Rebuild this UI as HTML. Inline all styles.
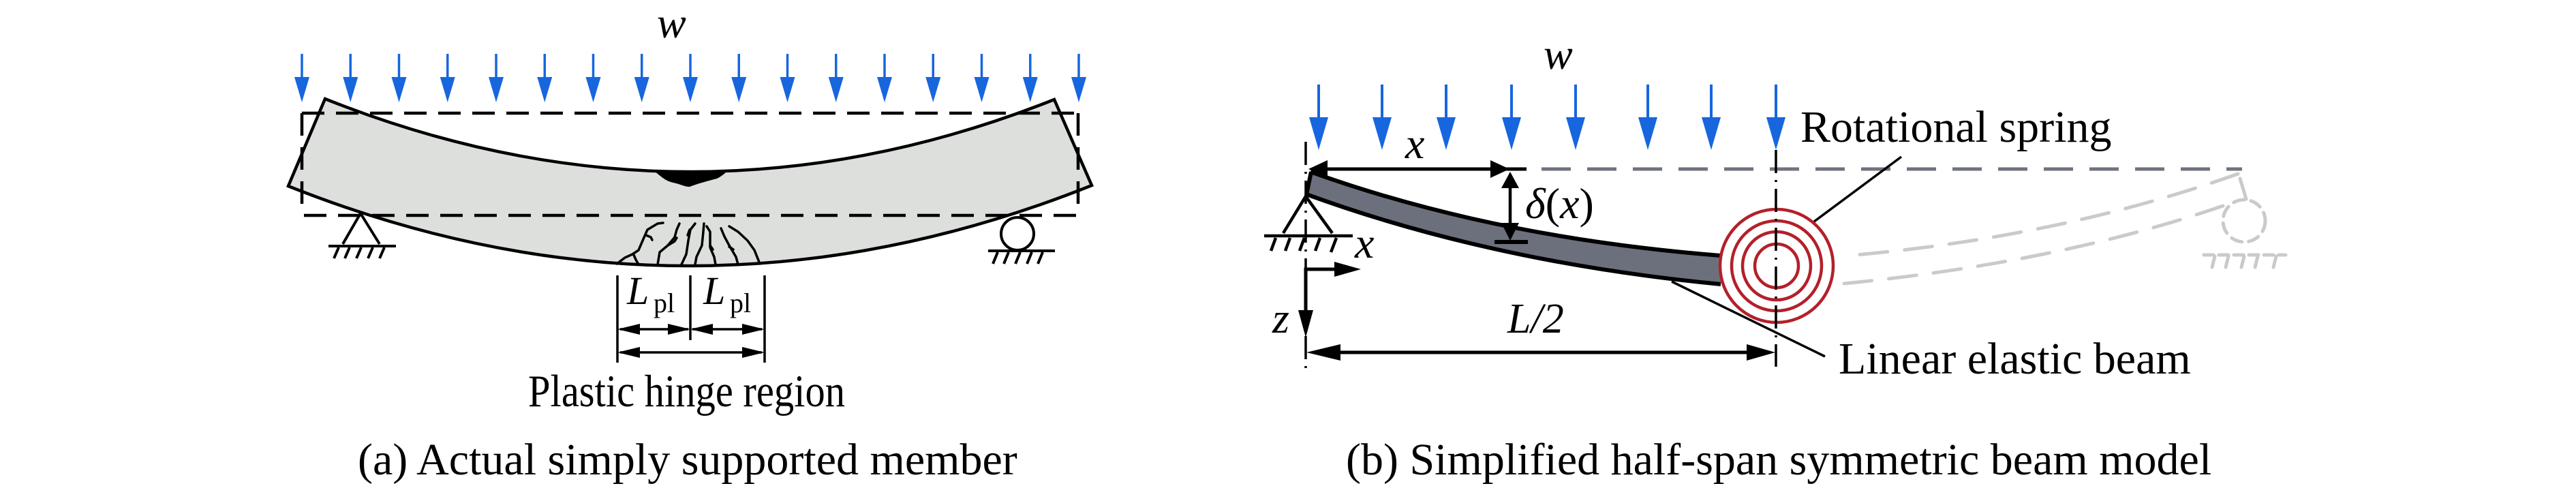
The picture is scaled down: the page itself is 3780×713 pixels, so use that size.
<!DOCTYPE html>
<html>
<head>
<meta charset="utf-8">
<style>
html,body{margin:0;padding:0;background:#fff;}
svg{display:block;}
text{font-family:"Liberation Serif","Times New Roman",serif;fill:#000;}
.it{font-style:italic;}
</style>
</head>
<body>
<svg width="3780" height="713" viewBox="0 0 3780 713" xmlns="http://www.w3.org/2000/svg">
<defs>
  <g id="ba">
    <line x1="0" y1="79" x2="0" y2="116" stroke="#1766de" stroke-width="3.5"/>
    <polygon points="-11,113 11,113 0,150" fill="#1766de"/>
  </g>
  <g id="bb">
    <line x1="0" y1="124" x2="0" y2="175" stroke="#1766de" stroke-width="4"/>
    <polygon points="-14,172 14,172 0,220" fill="#1766de"/>
  </g>
</defs>
<rect width="3780" height="713" fill="#fff"/>

<!-- ================= (a) ================= -->
<text class="it" x="964" y="55" font-size="64">w</text>

<!-- beam -->
<path d="M477 145 Q1012 358.5 1547 146 L1602 272 Q1012 507.5 423 273 Z" fill="#dcdfdc" stroke="#000" stroke-width="4.5" stroke-linejoin="miter"/>

<!-- dashed original rectangle -->
<g stroke="#000" stroke-width="4.5" fill="none" stroke-dasharray="33 17">
  <line x1="443" y1="166" x2="1582" y2="166"/>
  <line x1="446" y1="316" x2="1582" y2="316"/>
  <line x1="443" y1="166" x2="443" y2="302"/>
  <line x1="1582" y1="166" x2="1582" y2="316"/>
</g>

<!-- blob at top -->
<path d="M958 250 C968 256 974 265 988 268 C998 270 1004 274 1012 274 C1022 270 1040 265 1052 262 C1060 258 1064 254 1068 250 Z" fill="#000"/>

<!-- cracks -->
<g stroke="#000" stroke-width="3.5" fill="none" stroke-linejoin="round" stroke-linecap="round">
  <polyline points="905,387 917,378 928,373 937,367 943,353 950,337 965,328 973,327"/>
  <polyline points="930,374 933,381 937,388"/>
  <polyline points="948,345 955,348 957,352"/>
  <polyline points="965,388 968,370 980,360 990,348 993,337 997,328"/>
  <polyline points="980,360 990,354 993,349"/>
  <polyline points="1000,388 1007,373 1010,353 1013,337 1020,328"/>
  <polyline points="1012,337 1009,345"/>
  <polyline points="1020,388 1022,377 1030,360 1032,340 1033,328"/>
  <polyline points="1050,388 1048,377 1042,363 1042,340 1037,332"/>
  <polyline points="1042,360 1046,366"/>
  <polyline points="1083,388 1080,377 1070,360 1063,347 1058,335"/>
  <polyline points="1070,362 1076,366"/>
  <polyline points="1115,387 1107,367 1097,353 1083,340 1070,332"/>
</g>

<!-- left pin support -->
<g stroke="#000" stroke-width="4" fill="none">
  <polyline points="503,358 529,313 557,358"/>
  <line x1="482" y1="361" x2="581" y2="361"/>
  <line x1="497" y1="363" x2="490" y2="379"/>
  <line x1="513" y1="363" x2="506" y2="379"/>
  <line x1="530" y1="363" x2="523" y2="379"/>
  <line x1="547" y1="363" x2="540" y2="379"/>
  <line x1="564" y1="363" x2="557" y2="379"/>
</g>
<!-- right roller -->
<g stroke="#000" stroke-width="4" fill="none">
  <circle cx="1493" cy="343" r="24" fill="#fff"/>
  <line x1="1450" y1="368" x2="1548" y2="368"/>
  <line x1="1464" y1="370" x2="1457" y2="387"/>
  <line x1="1480" y1="370" x2="1473" y2="387"/>
  <line x1="1497" y1="370" x2="1490" y2="387"/>
  <line x1="1514" y1="370" x2="1507" y2="387"/>
  <line x1="1530" y1="370" x2="1523" y2="387"/>
</g>

<!-- load arrows (a) -->
<use href="#ba" x="443"/><use href="#ba" x="514.25"/><use href="#ba" x="585.5"/><use href="#ba" x="656.75"/>
<use href="#ba" x="728"/><use href="#ba" x="799.25"/><use href="#ba" x="870.5"/><use href="#ba" x="941.75"/>
<use href="#ba" x="1013"/><use href="#ba" x="1084.25"/><use href="#ba" x="1155.5"/><use href="#ba" x="1226.75"/>
<use href="#ba" x="1298"/><use href="#ba" x="1369.25"/><use href="#ba" x="1440.5"/><use href="#ba" x="1511.75"/>
<use href="#ba" x="1583"/>

<!-- plastic hinge dimensions -->
<g stroke="#000" stroke-width="3.5">
  <line x1="906" y1="404" x2="906" y2="532"/>
  <line x1="1013" y1="404" x2="1013" y2="499"/>
  <line x1="1122" y1="404" x2="1122" y2="532"/>
  <line x1="910" y1="483" x2="1010" y2="483"/>
  <line x1="1016" y1="483" x2="1118" y2="483"/>
  <line x1="910" y1="517" x2="1118" y2="517"/>
</g>
<g fill="#000">
  <polygon points="906,483 939,475 939,491"/>
  <polygon points="1013,483 980,475 980,491"/>
  <polygon points="1013,483 1046,475 1046,491"/>
  <polygon points="1122,483 1089,475 1089,491"/>
  <polygon points="906,517 939,509 939,525"/>
  <polygon points="1122,517 1089,509 1089,525"/>
</g>
<text class="it" x="920" y="446" font-size="58">L</text>
<text x="959" y="458" font-size="40">pl</text>
<text class="it" x="1032" y="446" font-size="58">L</text>
<text x="1071" y="458" font-size="40">pl</text>

<text x="775" y="596" font-size="67" textLength="465" lengthAdjust="spacingAndGlyphs">Plastic hinge region</text>
<text x="525" y="696" font-size="66">(a) Actual simply supported member</text>

<!-- ================= (b) ================= -->
<text class="it" x="2265" y="101" font-size="64">w</text>

<!-- gray dashed undeformed line -->
<line x1="2262" y1="248" x2="3290" y2="248" stroke="#6f737f" stroke-width="5" stroke-dasharray="43 24"/>

<!-- ghost mirrored beam -->
<g stroke="#c8ccc8" stroke-width="5" fill="none" stroke-dasharray="41 25" stroke-linecap="round">
  <path d="M3284 255 Q3021 348.5 2712 375"/>
  <path d="M3262 302 Q3021 385 2706 416"/>
  <line x1="3287" y1="262" x2="3296" y2="292"/>
</g>
<g stroke="#c8ccc8" stroke-width="5" fill="none" stroke-linecap="round">
  <circle cx="3293" cy="324" r="31" stroke-dasharray="16 10"/>
  <line x1="3234" y1="374" x2="3354" y2="374" stroke-dasharray="14 8"/>
  <line x1="3250" y1="376" x2="3246" y2="392"/>
  <line x1="3270" y1="376" x2="3266" y2="392"/>
  <line x1="3293" y1="376" x2="3289" y2="392"/>
  <line x1="3313" y1="376" x2="3309" y2="392"/>
  <line x1="3340" y1="376" x2="3336" y2="392"/>
</g>

<!-- beam (b) -->
<path d="M1923 252 Q2191 348.5 2525 375 L2525 417 Q2191 385 1917 285 Z" fill="#6c707d"/>
<g stroke="#000" stroke-width="6" fill="none">
  <path d="M1923 252 Q2191 348.5 2525 375"/>
  <path d="M1917 285 Q2191 385 2525 417"/>
  <line x1="1924" y1="252" x2="1917" y2="286"/>
</g>

<!-- left support (b) -->
<g stroke="#000" stroke-width="4.5" fill="none">
  <polyline points="1883,342 1916,288 1955,342"/>
  <line x1="1855" y1="346" x2="1985" y2="346"/>
  <line x1="1872" y1="349" x2="1865" y2="368"/>
  <line x1="1893" y1="349" x2="1886" y2="368"/>
  <line x1="1914" y1="349" x2="1907" y2="368"/>
  <line x1="1937" y1="349" x2="1930" y2="368"/>
  <line x1="1961" y1="349" x2="1953" y2="370"/>
</g>

<!-- center lines (dash-dot) -->
<g stroke="#000" stroke-width="3.5" stroke-dasharray="34 10 3 10">
  <line x1="1916" y1="208" x2="1916" y2="550"/>
</g>

<!-- spring -->
<circle cx="2607" cy="390" r="85" fill="#fff"/>
<g stroke="#b3202a" stroke-width="4.5" fill="none">
  <circle cx="2607" cy="390" r="83"/>
  <circle cx="2607" cy="390" r="66"/>
  <circle cx="2607" cy="390" r="50"/>
  <circle cx="2607" cy="390" r="32"/>
</g>
<line x1="2606" y1="220" x2="2606" y2="538" stroke="#000" stroke-width="3.5" stroke-dasharray="34 10 3 10"/>

<!-- load arrows (b) -->
<use href="#bb" x="1935"/><use href="#bb" x="2028"/><use href="#bb" x="2122"/><use href="#bb" x="2218"/>
<use href="#bb" x="2312"/><use href="#bb" x="2418"/><use href="#bb" x="2511"/><use href="#bb" x="2606"/>

<!-- x dimension -->
<line x1="1930" y1="248" x2="2240" y2="248" stroke="#000" stroke-width="5"/>
<polygon points="1920,248 1948,235 1948,261" fill="#000"/>
<polygon points="2215,248 2187,235 2187,261" fill="#000"/>
<text class="it" x="2062" y="232" font-size="64">x</text>

<!-- delta dimension -->
<line x1="2216" y1="268" x2="2216" y2="340" stroke="#000" stroke-width="4.5"/>
<polygon points="2216,252 2203,276 2229,276" fill="#000"/>
<polygon points="2216,353 2203,327 2229,327" fill="#000"/>
<line x1="2193" y1="355" x2="2242" y2="355" stroke="#000" stroke-width="6"/>
<text x="2238" y="320" font-size="64"><tspan class="it">δ</tspan>(<tspan class="it">x</tspan>)</text>

<!-- coordinate axes -->
<g stroke="#000" stroke-width="5" fill="none">
  <polyline points="1960,395 1916,395 1916,458"/>
</g>
<polygon points="1997,395 1958,384 1958,406" fill="#000"/>
<polygon points="1916,495 1905,455 1927,455" fill="#000"/>
<text class="it" x="1988" y="378" font-size="64">x</text>
<text class="it" x="1867" y="488" font-size="64">z</text>

<!-- L/2 dimension -->
<line x1="1940" y1="517" x2="2585" y2="517" stroke="#000" stroke-width="5"/>
<polygon points="1917,517 1967,505 1967,529" fill="#000"/>
<polygon points="2605,517 2563,505 2563,529" fill="#000"/>
<text class="it" x="2212" y="488" font-size="62">L/2</text>

<!-- leaders -->
<line x1="2662" y1="325" x2="2790" y2="230" stroke="#000" stroke-width="3.5"/>
<line x1="2453" y1="413" x2="2678" y2="523" stroke="#000" stroke-width="3.5"/>
<text x="2642" y="208" font-size="66">Rotational spring</text>
<text x="2698" y="548" font-size="66">Linear elastic beam</text>

<text x="1975" y="696" font-size="66">(b) Simplified half-span symmetric beam model</text>
</svg>
</body>
</html>
